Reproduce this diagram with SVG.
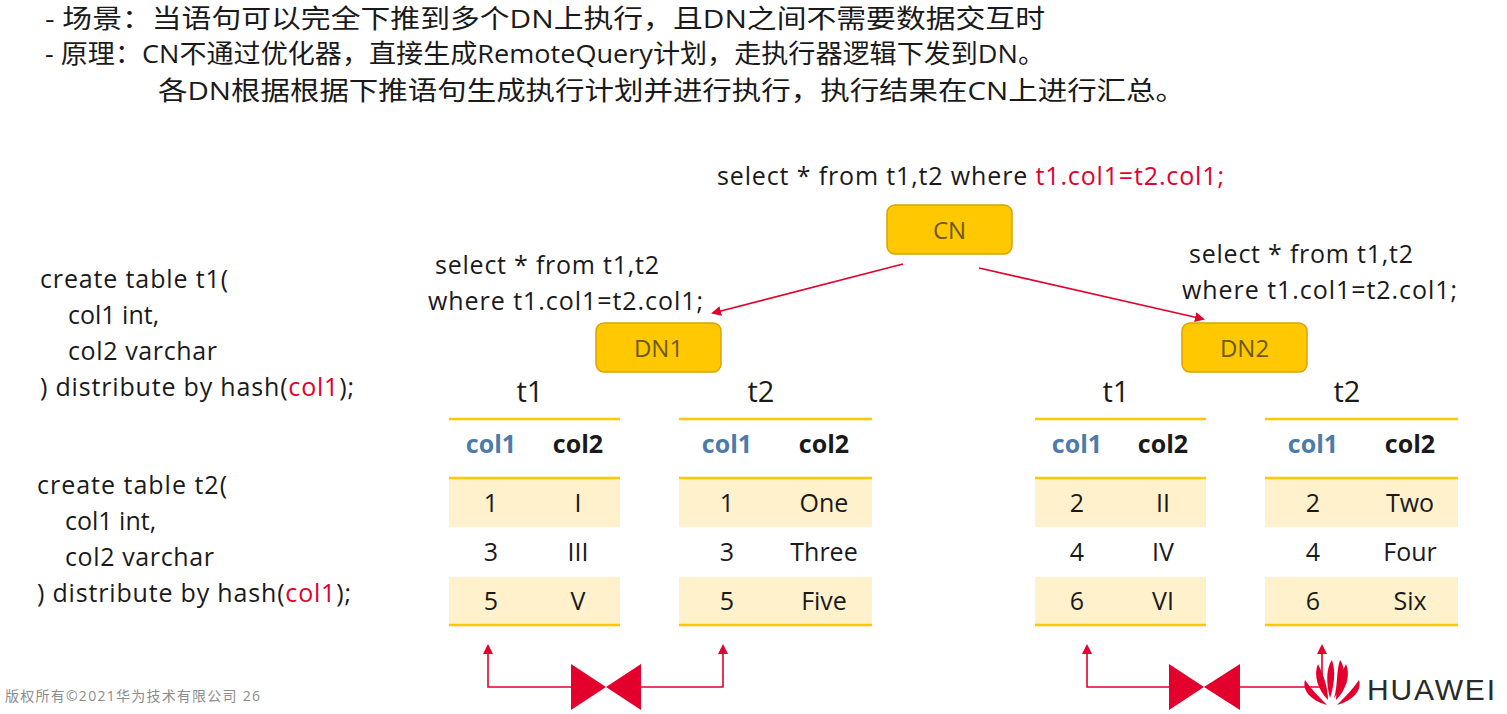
<svg xmlns="http://www.w3.org/2000/svg" width="1507" height="714" viewBox="0 0 1507 714">
<style>
text{font-family:"Open Sans","Noto Sans CJK SC",sans-serif;fill:#1a1a1a}
.t{font-size:25px}
.hd{font-size:26px}
.c{font-size:25px;text-anchor:middle}
.tt{font-size:29px;text-anchor:middle}
.h1{fill:#4a7bab;font-weight:bold}
.h2{font-weight:bold}
.red{fill:#e3002d}
.box{fill:#ffc800;stroke:#d9a400;stroke-width:1.5}
.bl{font-size:24px;fill:#6b5a20;text-anchor:middle}
.yl{stroke:#ffc800;stroke-width:2.5}
.row{fill:#fff1cc}
.con{stroke:#e3002d;stroke-width:1.6;fill:none}
</style>
<defs>
<marker id="a" markerWidth="10" markerHeight="10" refX="8" refY="5" orient="auto" markerUnits="userSpaceOnUse"><path d="M0,0 L10,5 L0,10 z" fill="#e3002d"/></marker>
</defs>
<g id="header">
<text class="hd" x="45" y="28" textLength="1000" lengthAdjust="spacingAndGlyphs">- 场景：当语句可以完全下推到多个DN上执行，且DN之间不需要数据交互时</text>
<text class="hd" x="45" y="63" textLength="1000" lengthAdjust="spacingAndGlyphs">- 原理：CN不通过优化器，直接生成RemoteQuery计划，走执行器逻辑下发到DN。</text>
<text class="hd" x="158" y="100" textLength="1027" lengthAdjust="spacingAndGlyphs">各DN根据根据下推语句生成执行计划并进行执行，执行结果在CN上进行汇总。</text>
</g>
<g id="ddl">
<text class="t" x="40" y="288" textLength="188">create table t1(</text>
<text class="t" x="68" y="324">col1 int,</text>
<text class="t" x="68" y="360" textLength="149">col2 varchar</text>
<text class="t" x="40" y="396" textLength="314">) distribute by hash(<tspan class="red">col1</tspan>);</text>
<text class="t" x="37" y="494" textLength="190">create table t2(</text>
<text class="t" x="65" y="530">col1 int,</text>
<text class="t" x="65" y="566" textLength="149">col2 varchar</text>
<text class="t" x="37" y="602" textLength="314">) distribute by hash(<tspan class="red">col1</tspan>);</text>
</g>
<g id="queries">
<text class="t" x="717" y="185" textLength="507">select * from t1,t2 where <tspan class="red">t1.col1=t2.col1;</tspan></text>
<text class="t" x="435" y="274" textLength="224">select * from t1,t2</text>
<text class="t" x="428" y="310" textLength="275">where t1.col1=t2.col1;</text>
<text class="t" x="1189" y="263" textLength="224">select * from t1,t2</text>
<text class="t" x="1182" y="299" textLength="275">where t1.col1=t2.col1;</text>
</g>
<g id="CN"><rect class="box" x="887" y="205" width="125" height="49" rx="8"/><text class="bl" x="949.5" y="239">CN</text></g>
<g id="DN1"><rect class="box" x="596" y="323" width="125" height="49" rx="8"/><text class="bl" x="658.5" y="357">DN1</text></g>
<g id="DN2"><rect class="box" x="1182" y="323" width="125" height="49" rx="8"/><text class="bl" x="1244.5" y="357">DN2</text></g>
<g id="dn1-t1">
<text class="tt" x="530" y="402">t1</text>
<rect class="row" x="449" y="479" width="171" height="48"/><rect class="row" x="449" y="577" width="171" height="48"/>
<line class="yl" x1="449" y1="419" x2="620" y2="419"/><line class="yl" x1="449" y1="478" x2="620" y2="478"/><line class="yl" x1="449" y1="625" x2="620" y2="625"/>
<text class="c h1" x="491" y="453">col1</text><text class="c h2" x="578" y="453">col2</text>
<text class="c" x="491" y="512">1</text><text class="c" x="578" y="512">I</text>
<text class="c" x="491" y="561">3</text><text class="c" x="578" y="561">III</text>
<text class="c" x="491" y="610">5</text><text class="c" x="578" y="610">V</text>
</g>
<g id="dn1-t2">
<text class="tt" x="761" y="402">t2</text>
<rect class="row" x="679" y="479" width="193" height="48"/><rect class="row" x="679" y="577" width="193" height="48"/>
<line class="yl" x1="679" y1="419" x2="872" y2="419"/><line class="yl" x1="679" y1="478" x2="872" y2="478"/><line class="yl" x1="679" y1="625" x2="872" y2="625"/>
<text class="c h1" x="727" y="453">col1</text><text class="c h2" x="824" y="453">col2</text>
<text class="c" x="727" y="512">1</text><text class="c" x="824" y="512">One</text>
<text class="c" x="727" y="561">3</text><text class="c" x="824" y="561">Three</text>
<text class="c" x="727" y="610">5</text><text class="c" x="824" y="610">Five</text>
</g>
<g id="dn2-t1">
<text class="tt" x="1116" y="402">t1</text>
<rect class="row" x="1035" y="479" width="171" height="48"/><rect class="row" x="1035" y="577" width="171" height="48"/>
<line class="yl" x1="1035" y1="419" x2="1206" y2="419"/><line class="yl" x1="1035" y1="478" x2="1206" y2="478"/><line class="yl" x1="1035" y1="625" x2="1206" y2="625"/>
<text class="c h1" x="1077" y="453">col1</text><text class="c h2" x="1163" y="453">col2</text>
<text class="c" x="1077" y="512">2</text><text class="c" x="1163" y="512">II</text>
<text class="c" x="1077" y="561">4</text><text class="c" x="1163" y="561">IV</text>
<text class="c" x="1077" y="610">6</text><text class="c" x="1163" y="610">VI</text>
</g>
<g id="dn2-t2">
<text class="tt" x="1347" y="402">t2</text>
<rect class="row" x="1265" y="479" width="193" height="48"/><rect class="row" x="1265" y="577" width="193" height="48"/>
<line class="yl" x1="1265" y1="419" x2="1458" y2="419"/><line class="yl" x1="1265" y1="478" x2="1458" y2="478"/><line class="yl" x1="1265" y1="625" x2="1458" y2="625"/>
<text class="c h1" x="1313" y="453">col1</text><text class="c h2" x="1410" y="453">col2</text>
<text class="c" x="1313" y="512">2</text><text class="c" x="1410" y="512">Two</text>
<text class="c" x="1313" y="561">4</text><text class="c" x="1410" y="561">Four</text>
<text class="c" x="1313" y="610">6</text><text class="c" x="1410" y="610">Six</text>
</g>
<g id="connectors">
<line class="con" x1="903" y1="264" x2="713" y2="313" marker-end="url(#a)"/>
<line class="con" x1="979" y1="268" x2="1203" y2="319" marker-end="url(#a)"/>
<polyline class="con" points="571,687 488,687 488,646" marker-end="url(#a)"/>
<polyline class="con" points="641,687 723,687 723,646" marker-end="url(#a)"/>
<path d="M571,664 L606,687 L571,710 z M641,664 L606,687 L641,710 z" fill="#e3002d"/>
<polyline class="con" points="1169,687 1087,687 1087,646" marker-end="url(#a)"/>
<polyline class="con" points="1240,687 1322,687 1322,646" marker-end="url(#a)"/>
<path d="M1169,664 L1204,687 L1169,710 z M1240,664 L1204,687 L1240,710 z" fill="#e3002d"/>
</g>
<g id="footer">
<text x="5" y="701" style="font-size:14px;fill:#8c8c8c" textLength="255">版权所有©2021华为技术有限公司   26</text>
<g id="logo" fill="#e3002d">
<path d="M1327,705 C1310,700 1302,690 1305,680 C1312,690 1320,698 1327,705z"/>
<path d="M1328,700 C1318,690 1313,675 1318,664 C1324,676 1328,688 1328,700z"/>
<path d="M1330,698 C1326,684 1326,668 1332,660 C1336,672 1334,686 1330,698z"/>
<path d="M1334,698 C1338,686 1336,672 1340,660 C1346,668 1346,684 1334,698z"/>
<path d="M1336,700 C1336,688 1340,676 1346,664 C1351,675 1346,690 1336,700z"/>
<path d="M1337,705 C1344,698 1352,690 1359,680 C1362,690 1354,700 1337,705z"/>
</g>
<text x="1367" y="700" style="font-size:30px;font-family:'Liberation Sans',sans-serif;fill:#2a2a2a" textLength="128">HUAWEI</text>
</g>
</svg>
